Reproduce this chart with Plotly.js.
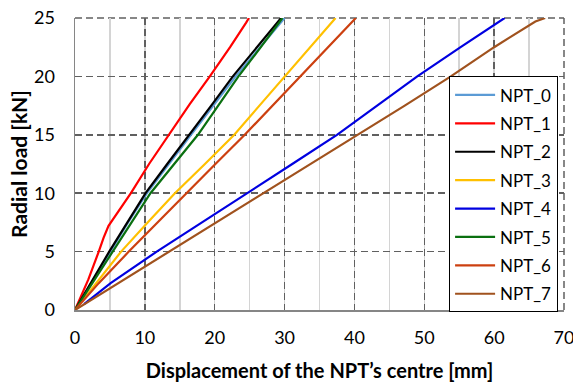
<!DOCTYPE html>
<html>
<head>
<meta charset="utf-8">
<script src="https://cdn.plot.ly/plotly-3.0.1.min.js"></script>
<style>html,body{margin:0;padding:0;background:#fff;}#chart{width:573px;height:383px;}</style>
</head>
<body>
<div id="chart"></div>
<script>
// Displacement of the NPT's centre [mm] (x) vs radial load [kN] (y)
const seriesNames = ["NPT_0", "NPT_1", "NPT_2", "NPT_3", "NPT_4", "NPT_5", "NPT_6", "NPT_7"];
const seriesColors = ["#5B9BD5", "#FF0000", "#000000", "#FFC000", "#0000E0", "#0A7010", "#CC4010", "#A0521E"];

const npt0_x = [0, 2.3, 5.0, 7.6, 10.3, 13.4, 16.6, 19.8, 23.0, 26.5, 30.0];
const npt0_y = [0, 2.3, 5, 7.5, 10, 12.5, 15, 17.5, 20, 22.5, 25];

const npt1_x = [0, 1.9, 3.4, 4.1, 4.8, 5.6, 6.6, 8.0, 10.6, 13.4, 16.4, 19.3, 22.2, 24.5, 24.9];
const npt1_y = [0, 2.6, 5.0, 6.2, 7.2, 7.9, 8.7, 10.0, 12.5, 15, 17.6, 20, 22.5, 24.6, 25];

const npt2_x = [0, 2.2, 4.9, 7.5, 10.1, 13.2, 16.4, 19.5, 22.6, 26.1, 29.5];
const npt2_y = [0, 2.3, 5, 7.5, 10, 12.5, 15, 17.5, 20, 22.5, 25];

const npt3_x = [0, 3.0, 6.6, 10.4, 14.3, 18.6, 22.8, 26.4, 30.0, 33.7, 37.3];
const npt3_y = [0, 2.3, 5, 7.5, 10, 12.5, 15, 17.5, 20, 22.5, 25];

const npt4_x = [1.3, 5.1, 11.7, 18.2, 24.7, 31.1, 37.5, 43.3, 49.0, 55.2, 61.5];
const npt4_y = [0.5, 2.3, 5, 7.5, 10, 12.5, 15, 17.5, 20, 22.5, 25];

const npt5_x = [0, 2.5, 5.5, 8.1, 10.8, 14.2, 17.6, 20.5, 23.4, 26.6, 29.7];
const npt5_y = [0, 2.3, 5, 7.5, 10, 12.5, 15, 17.5, 20, 22.5, 25];

const npt6_x = [0, 3.4, 7.7, 11.8, 15.9, 20.1, 24.3, 28.3, 32.3, 36.3, 40.2];
const npt6_y = [0, 2.3, 5, 7.5, 10, 12.5, 15, 17.5, 20, 22.5, 25];

const npt7_x = [0, 6.2, 13.6, 20.4, 27.1, 33.8, 40.5, 47.2, 53.8, 60.0, 65.9, 67.3];
const npt7_y = [0, 2.3, 5, 7.5, 10, 12.5, 15, 17.5, 20, 22.5, 24.7, 25];

const xTickVals = [0, 10, 20, 30, 40, 50, 60, 70];
const yTickVals = [0, 5, 10, 15, 20, 25];

const allX = [npt0_x, npt1_x, npt2_x, npt3_x, npt4_x, npt5_x, npt6_x, npt7_x];
const allY = [npt0_y, npt1_y, npt2_y, npt3_y, npt4_y, npt5_y, npt6_y, npt7_y];

const FONT = "Lato, 'Open Sans', sans-serif";
const GRID_DARK = "#606060";

const traces = seriesNames.map((n, i) => ({
  type: "scatter",
  mode: "lines",
  name: n,
  x: allX[i],
  y: allY[i],
  legendgroup: n,
  line: {color: seriesColors[i], width: 2.2},
  hoverinfo: "skip"
}));

const layout = {
  width: 573,
  height: 383,
  paper_bgcolor: "#ffffff",
  plot_bgcolor: "#ffffff",
  margin: {l: 75, r: 9, t: 18, b: 73, pad: 0},
  showlegend: true,
  font: {family: FONT, color: "#000"},
  xaxis: {
    range: [0, 70],
    tickvals: xTickVals,
    ticks: "",
    showline: true,
    linecolor: "#868686",
    linewidth: 1.5,
    showgrid: true,
    gridcolor: GRID_DARK,
    gridwidth: 1.5,
    griddash: "7px,4px",
    zeroline: false,
    tickfont: {family: FONT, size: 18, color: "#000"},
    ticklabelstandoff: 11,
    ticklabeloverflow: "allow",
    minor: {dtick: 5, tick0: 0, showgrid: true, gridcolor: "#d4d4d4", gridwidth: 1.5, griddash: "solid", ticks: ""},
    title: {text: "<b>Displacement of the NPT’s centre [mm]</b>", font: {family: FONT, size: 20, color: "#000"}, standoff: 17},
    automargin: false
  },
  yaxis: {
    range: [0, 25],
    tickvals: yTickVals,
    ticks: "",
    showline: true,
    linecolor: "#868686",
    linewidth: 1.5,
    showgrid: true,
    gridcolor: GRID_DARK,
    gridwidth: 1.5,
    griddash: "7px,4px",
    zeroline: false,
    tickfont: {family: FONT, size: 18, color: "#000"},
    ticklabelstandoff: 15,
    title: {text: "<b>Radial load [kN]</b>", font: {family: FONT, size: 21, color: "#000"}, standoff: 0},
    automargin: false
  },
  shapes: [
    {type: "line", xref: "paper", yref: "paper", x0: 0, x1: 1, y0: 1, y1: 1, line: {color: GRID_DARK, width: 1.5, dash: "7px,4px"}, layer: "below"},
    {type: "line", xref: "paper", yref: "paper", x0: 1, x1: 1, y0: 0, y1: 1, line: {color: GRID_DARK, width: 1.5, dash: "7px,4px"}, layer: "below"}
  ],
  legend: {
    x: 0.765,
    y: 0.8,
    xanchor: "left",
    yanchor: "top",
    bgcolor: "#ffffff",
    bordercolor: "#000000",
    borderwidth: 1,
    font: {family: FONT, size: 17, color: "#000"},
    traceorder: "grouped",
    tracegroupgap: 3.3,
    itemwidth: 40
  }
};

Plotly.newPlot("chart", traces, layout, {displayModeBar: false, staticPlot: true});
</script>
</body>
</html>
